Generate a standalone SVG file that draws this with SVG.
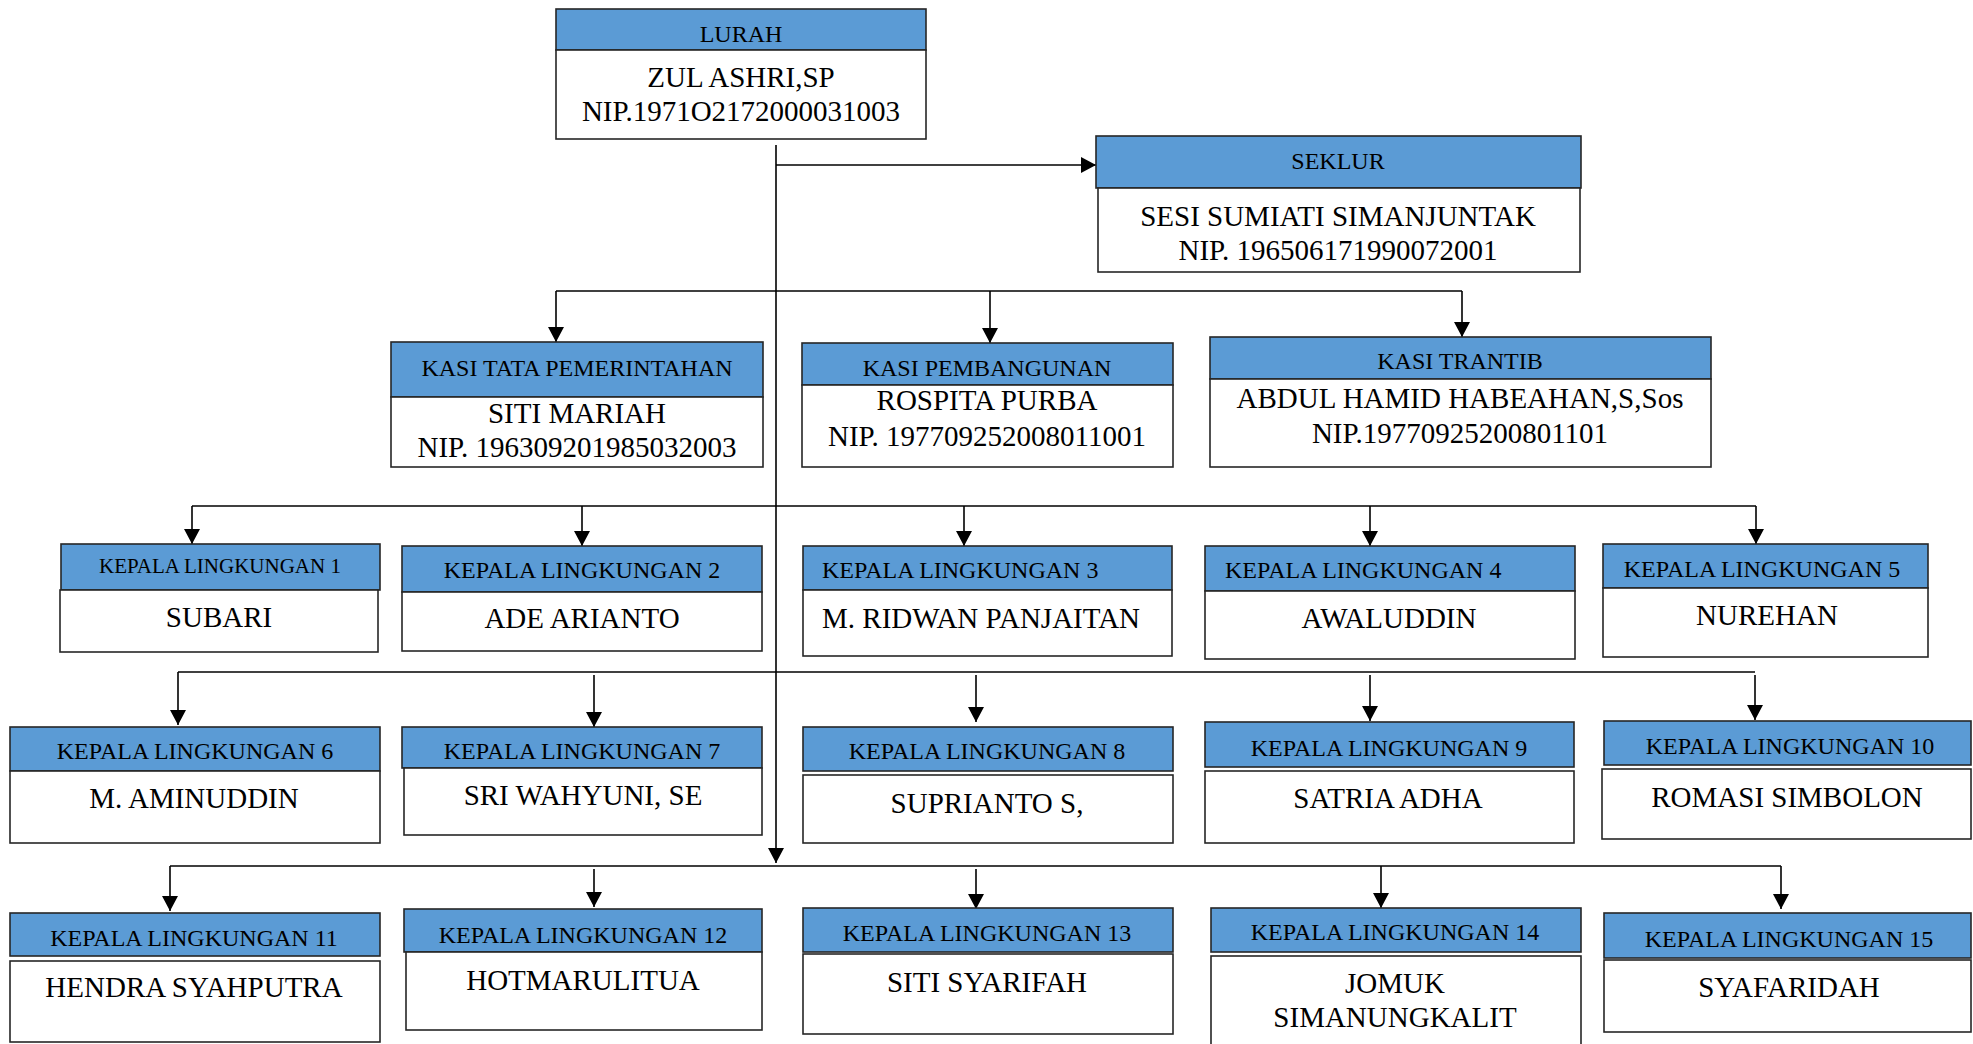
<svg xmlns="http://www.w3.org/2000/svg" width="1973" height="1044" viewBox="0 0 1973 1044">
<style>
.hd{fill:#5B9BD5;stroke:#262626;stroke-width:1.6}
.bd{fill:#ffffff;stroke:#262626;stroke-width:1.6}
.t{font-family:"Liberation Serif","Times New Roman",serif;fill:#000;text-anchor:middle}
.h{font-size:24px}
.n{font-size:29px}
.l{text-anchor:start}
.c{fill:none;stroke:#000;stroke-width:1.6}
</style>
<defs>
<marker id="a" markerUnits="userSpaceOnUse" markerWidth="15" markerHeight="16" refX="15" refY="8" orient="auto">
<path d="M0,0 L15,8 L0,16 z" fill="#000"/>
</marker>
</defs>
<rect width="1973" height="1044" fill="#fff"/>
<g id="connectors">
<path class="c" d="M776,145 V863" marker-end="url(#a)"/>
<path class="c" d="M776,165 H1096" marker-end="url(#a)"/>
<path class="c" d="M556,291 H1462"/>
<path class="c" d="M556,291 V342" marker-end="url(#a)"/>
<path class="c" d="M990,291 V343" marker-end="url(#a)"/>
<path class="c" d="M1462,291 V337" marker-end="url(#a)"/>
<path class="c" d="M192,506 H1756"/>
<path class="c" d="M192,506 V544" marker-end="url(#a)"/>
<path class="c" d="M582,506 V546" marker-end="url(#a)"/>
<path class="c" d="M964,506 V546" marker-end="url(#a)"/>
<path class="c" d="M1370,506 V546" marker-end="url(#a)"/>
<path class="c" d="M1756,506 V544" marker-end="url(#a)"/>
<path class="c" d="M178,672 H1755"/>
<path class="c" d="M178,672 V725" marker-end="url(#a)"/>
<path class="c" d="M594,675 V727" marker-end="url(#a)"/>
<path class="c" d="M976,675 V722" marker-end="url(#a)"/>
<path class="c" d="M1370,675 V721" marker-end="url(#a)"/>
<path class="c" d="M1755,675 V720" marker-end="url(#a)"/>
<path class="c" d="M170,866 H1781"/>
<path class="c" d="M170,866 V911" marker-end="url(#a)"/>
<path class="c" d="M594,869 V907" marker-end="url(#a)"/>
<path class="c" d="M976,869 V909" marker-end="url(#a)"/>
<path class="c" d="M1381,866 V908" marker-end="url(#a)"/>
<path class="c" d="M1781,866 V909" marker-end="url(#a)"/>
</g>
<g id="lurah">
<rect class="hd" x="556" y="9" width="370" height="41"/>
<rect class="bd" x="556" y="50" width="370" height="89"/>
<text class="t h" x="741" y="42">LURAH</text>
<text class="t n" x="741" y="87">ZUL ASHRI,SP</text>
<text class="t n" x="741" y="121">NIP.1971O2172000031003</text>
</g>
<g id="seklur">
<rect class="hd" x="1096" y="136" width="485" height="52"/>
<rect class="bd" x="1098" y="188" width="482" height="84"/>
<text class="t h" x="1338" y="169">SEKLUR</text>
<text class="t n" x="1338" y="226">SESI SUMIATI SIMANJUNTAK</text>
<text class="t n" x="1338" y="260">NIP. 196506171990072001</text>
</g>
<g id="kasi-tata">
<rect class="hd" x="391" y="342" width="372" height="55"/>
<rect class="bd" x="391" y="397" width="372" height="70"/>
<text class="t h" x="577" y="376">KASI TATA PEMERINTAHAN</text>
<text class="t n" x="577" y="423">SITI MARIAH</text>
<text class="t n" x="577" y="457">NIP. 196309201985032003</text>
</g>
<g id="kasi-pembangunan">
<rect class="hd" x="802" y="343" width="371" height="42"/>
<rect class="bd" x="802" y="385" width="371" height="82"/>
<text class="t h" x="987" y="376">KASI PEMBANGUNAN</text>
<text class="t n" x="987" y="410">ROSPITA PURBA</text>
<text class="t n" x="987" y="446">NIP. 197709252008011001</text>
</g>
<g id="kasi-trantib">
<rect class="hd" x="1210" y="337" width="501" height="42"/>
<rect class="bd" x="1210" y="379" width="501" height="88"/>
<text class="t h" x="1460" y="369">KASI TRANTIB</text>
<text class="t n" x="1460" y="408">ABDUL HAMID HABEAHAN,S,Sos</text>
<text class="t n" x="1460" y="443">NIP.19770925200801101</text>
</g>
<g id="kl1">
<rect class="hd" x="61" y="544" width="319" height="46"/>
<rect class="bd" x="60" y="590" width="318" height="62"/>
<text class="t" style="font-size:21px" x="220" y="573">KEPALA LINGKUNGAN 1</text>
<text class="t n" x="219" y="627">SUBARI</text>
</g>
<g id="kl2">
<rect class="hd" x="402" y="546" width="360" height="46"/>
<rect class="bd" x="402" y="592" width="360" height="59"/>
<text class="t h" x="582" y="578">KEPALA LINGKUNGAN 2</text>
<text class="t n" x="582" y="628">ADE ARIANTO</text>
</g>
<g id="kl3">
<rect class="hd" x="803" y="546" width="369" height="44"/>
<rect class="bd" x="803" y="590" width="369" height="66"/>
<text class="t h l" x="822" y="578">KEPALA LINGKUNGAN 3</text>
<text class="t n l" x="822" y="628">M. RIDWAN PANJAITAN</text>
</g>
<g id="kl4">
<rect class="hd" x="1205" y="546" width="370" height="45"/>
<rect class="bd" x="1205" y="591" width="370" height="68"/>
<text class="t h l" x="1225" y="578">KEPALA LINGKUNGAN 4</text>
<text class="t n" x="1389" y="628">AWALUDDIN</text>
</g>
<g id="kl5">
<rect class="hd" x="1603" y="544" width="325" height="44"/>
<rect class="bd" x="1603" y="588" width="325" height="69"/>
<text class="t h" x="1762" y="577">KEPALA LINGKUNGAN 5</text>
<text class="t n" x="1767" y="625">NUREHAN</text>
</g>
<g id="kl6">
<rect class="hd" x="10" y="727" width="370" height="44"/>
<rect class="bd" x="10" y="771" width="370" height="72"/>
<text class="t h" x="195" y="759">KEPALA LINGKUNGAN 6</text>
<text class="t n" x="194" y="808">M. AMINUDDIN</text>
</g>
<g id="kl7">
<rect class="hd" x="402" y="727" width="360" height="41"/>
<rect class="bd" x="404" y="768" width="358" height="67"/>
<text class="t h" x="582" y="759">KEPALA LINGKUNGAN 7</text>
<text class="t n" x="583" y="805">SRI WAHYUNI, SE</text>
</g>
<g id="kl8">
<rect class="hd" x="803" y="727" width="370" height="44"/>
<rect class="bd" x="803" y="775" width="370" height="68"/>
<text class="t h" x="987" y="759">KEPALA LINGKUNGAN 8</text>
<text class="t n" x="987" y="813">SUPRIANTO S,</text>
</g>
<g id="kl9">
<rect class="hd" x="1205" y="722" width="369" height="45"/>
<rect class="bd" x="1205" y="771" width="369" height="72"/>
<text class="t h" x="1389" y="756">KEPALA LINGKUNGAN 9</text>
<text class="t n" x="1388" y="808">SATRIA ADHA</text>
</g>
<g id="kl10">
<rect class="hd" x="1604" y="721" width="367" height="44"/>
<rect class="bd" x="1602" y="769" width="369" height="70"/>
<text class="t h" x="1790" y="754">KEPALA LINGKUNGAN 10</text>
<text class="t n" x="1787" y="807">ROMASI SIMBOLON</text>
</g>
<g id="kl11">
<rect class="hd" x="10" y="913" width="370" height="43"/>
<rect class="bd" x="10" y="961" width="370" height="81"/>
<text class="t h" x="194" y="946">KEPALA LINGKUNGAN 11</text>
<text class="t n" x="194" y="997">HENDRA SYAHPUTRA</text>
</g>
<g id="kl12">
<rect class="hd" x="404" y="909" width="358" height="43"/>
<rect class="bd" x="406" y="952" width="356" height="78"/>
<text class="t h" x="583" y="943">KEPALA LINGKUNGAN 12</text>
<text class="t n" x="583" y="990">HOTMARULITUA</text>
</g>
<g id="kl13">
<rect class="hd" x="803" y="908" width="370" height="44"/>
<rect class="bd" x="803" y="954" width="370" height="80"/>
<text class="t h" x="987" y="941">KEPALA LINGKUNGAN 13</text>
<text class="t n" x="987" y="992">SITI SYARIFAH</text>
</g>
<g id="kl14">
<rect class="hd" x="1211" y="908" width="370" height="44"/>
<rect class="bd" x="1211" y="956" width="370" height="100"/>
<text class="t h" x="1395" y="940">KEPALA LINGKUNGAN 14</text>
<text class="t n" x="1395" y="993">JOMUK</text>
<text class="t n" x="1395" y="1027">SIMANUNGKALIT</text>
</g>
<g id="kl15">
<rect class="hd" x="1604" y="913" width="367" height="45"/>
<rect class="bd" x="1604" y="960" width="367" height="72"/>
<text class="t h" x="1789" y="947">KEPALA LINGKUNGAN 15</text>
<text class="t n" x="1789" y="997">SYAFARIDAH</text>
</g>
</svg>
